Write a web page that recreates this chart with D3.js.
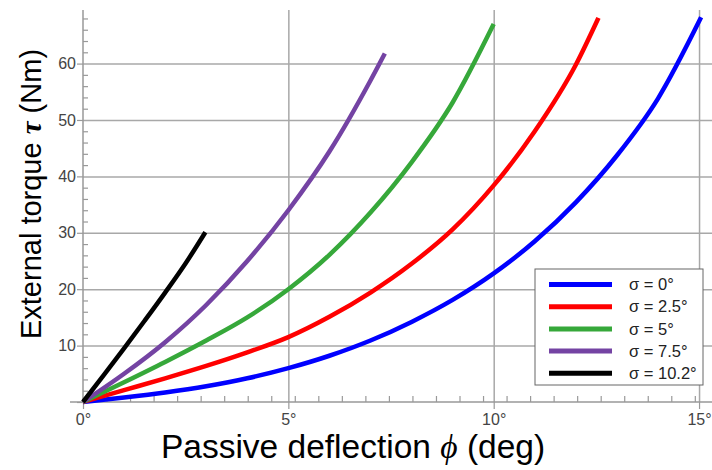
<!DOCTYPE html>
<html>
<head>
<meta charset="utf-8">
<script src="https://cdn.jsdelivr.net/npm/d3@7"></script>
<style>
  body { margin: 0; background: #fff; }
  svg { display: block; font-family: Arial, "Liberation Sans", sans-serif; }
  .grid line { stroke: #a8a8a8; stroke-width: 1.5; }
  .grid path { display: none; }
  .axis path { display: none; }
  .axis line { stroke: #999; stroke-width: 1.2; }
  .axis text { fill: #444; font-size: 16px; }
</style>
</head>
<body>
<div class="container"></div>
<script>
const w = 712;
const h = 470;
const margin = { top: 10, bottom: 68, left: 83, right: 0 };
const height = h - margin.top - margin.bottom;

// legend labels
const sigmaLabels = ["σ = 0°", "σ = 2.5°", "σ = 5°", "σ = 7.5°", "σ = 10.2°"];

// passive deflection phi (deg) and external torque tau (Nm), one pair per sigma
const phi0  = [0, 1, 2, 3, 4, 5, 6, 7, 8, 9, 10, 11, 12, 13, 14, 15.05];
const tau0  = [0, 0.8, 1.7, 2.8, 4.2, 6.0, 8.2, 10.9, 14.2, 18.1, 22.8, 28.5, 35.4, 43.7, 53.8, 68.2];
const phi25 = [0, 1, 2, 3, 4, 5, 6, 7, 8, 9, 10, 11, 12, 12.55];
const tau25 = [0, 2.1, 4.2, 6.4, 8.8, 11.5, 15.1, 19.4, 24.5, 30.6, 38.4, 48.0, 59.8, 68.1];
const phi5  = [0, 1, 2, 3, 4, 5, 6, 7, 8, 9, 10];
const tau5  = [0, 3.5, 7.1, 10.9, 15.0, 20.0, 26.1, 33.6, 42.5, 53.1, 67.0];
const phi75 = [0, 1, 2, 3, 4, 5, 6, 7, 7.35];
const tau75 = [0, 5.0, 10.6, 17.2, 25.0, 34.0, 44.4, 57.0, 61.8];
const phi102 = [0, 0.5, 1, 1.5, 2, 2.5, 2.98];
const tau102 = [0, 4.7, 9.5, 14.4, 19.4, 24.6, 30.1];

// tick values
const xMajor = [0, 5, 10, 15];
const yMajor = [0, 10, 20, 30, 40, 50, 60];

const colors = ["#0000ff", "#ff0000", "#36a83a", "#7443a3", "#000000"];

const series = [
  [phi0, tau0], [phi25, tau25], [phi5, tau5], [phi75, tau75], [phi102, tau102]
].map(([p, t], i) => ({
  label: sigmaLabels[i],
  color: colors[i],
  values: p.map((d, j) => ({ phi: d, tau: t[j] }))
}));

const svg = d3.select('.container').append('svg')
    .attr('width', w)
    .attr('height', h);

const x = d3.scaleLinear()
    .domain([0, 15.5])
    .range([margin.left, margin.left + 15.5 * 41.07]);

const y = d3.scaleLinear()
    .domain([0, 69.5])
    .range([margin.top + height, margin.top]);

const x0 = x(0);
const y0 = y(0);

// grid lines
svg.append('g')
    .classed('grid', true)
    .attr('transform', `translate(0, ${y0})`)
    .call(d3.axisBottom(x).tickValues(xMajor.slice(1)).tickSize(-(y0 - margin.top)).tickFormat(''));

svg.append('g')
    .classed('grid', true)
    .attr('transform', `translate(${x0}, 0)`)
    .call(d3.axisLeft(y).tickValues(yMajor.slice(1)).tickSize(-(w - x0)).tickFormat(''));

// minor ticks: x every 0.01 rad, y every 2 Nm
const xMinor = d3.range(1, 28).map(k => k * 0.01 * 180 / Math.PI);
const yMinor = d3.range(2, 69, 2).filter(d => d % 10 !== 0);

svg.append('g')
    .classed('axis', true)
    .attr('transform', `translate(0, ${y0})`)
    .call(d3.axisBottom(x).tickValues(xMinor).tickSize(-6).tickFormat(''));

svg.append('g')
    .classed('axis', true)
    .attr('transform', `translate(${x0}, 0)`)
    .call(d3.axisLeft(y).tickValues(yMinor).tickSize(-5).tickFormat(''));

// major ticks with labels
svg.append('g')
    .classed('axis', true)
    .attr('id', 'x-axis')
    .attr('transform', `translate(0, ${y0})`)
    .call(d3.axisBottom(x).tickValues(xMajor).tickSize(7).tickPadding(5).tickFormat(d => d + '°'));

svg.append('g')
    .classed('axis', true)
    .attr('id', 'y-axis')
    .attr('transform', `translate(${x0}, 0)`)
    .call(d3.axisLeft(y).tickValues(yMajor).tickSize(6).tickPadding(1).tickFormat(d => d === 0 ? '' : d));

// axis lines
svg.append('line')
    .attr('x1', x0 - 13).attr('x2', w)
    .attr('y1', y0).attr('y2', y0)
    .style('stroke', '#999').style('stroke-width', 1.5);

svg.append('line')
    .attr('x1', x0).attr('x2', x0)
    .attr('y1', y0).attr('y2', margin.top)
    .style('stroke', '#999').style('stroke-width', 1.5);

// curves
const line = d3.line()
    .x(d => x(d.phi))
    .y(d => y(d.tau))
    .curve(d3.curveMonotoneX);

svg.selectAll('.curve')
    .data(series)
    .enter()
    .append('path')
      .classed('curve', true)
      .attr('d', d => line(d.values))
      .style('fill', 'none')
      .style('stroke', d => d.color)
      .style('stroke-width', 4.5);

// axis titles
const yTitle = svg.append('text')
    .attr('transform', `translate(41, 194) rotate(-90)`)
    .style('text-anchor', 'middle')
    .style('font-size', '29px')
    .style('fill', '#000');
yTitle.append('tspan').text('External torque ');
yTitle.append('tspan').text('τ')
    .style('font-family', '"Liberation Serif", serif')
    .style('font-style', 'italic')
    .style('font-weight', 'bold');
yTitle.append('tspan').text(' (Nm)');

const xTitle = svg.append('text')
    .attr('x', 353)
    .attr('y', 458)
    .style('text-anchor', 'middle')
    .style('font-size', '33.5px')
    .style('fill', '#000');
xTitle.append('tspan').text('Passive deflection ');
xTitle.append('tspan').text('ϕ')
    .style('font-family', '"Liberation Serif", serif')
    .style('font-style', 'italic');
xTitle.append('tspan').text(' (deg)');

// legend
const legend = svg.append('g')
    .attr('transform', 'translate(535, 269)');

legend.append('rect')
    .attr('width', 168)
    .attr('height', 116)
    .style('fill', '#fff')
    .style('stroke', '#666')
    .style('stroke-width', 1);

const item = legend.selectAll('.legend')
    .data(series)
    .enter()
    .append('g')
      .attr('class', 'legend')
      .attr('transform', (d, i) => `translate(0, ${15.5 + i * 22.2})`);

item.append('line')
    .attr('x1', 14).attr('x2', 77)
    .style('stroke', d => d.color)
    .style('stroke-width', 5);

item.append('text')
    .attr('x', 94)
    .attr('dy', '0.35em')
    .style('font-size', '16.5px')
    .style('fill', '#222')
    .text(d => d.label);
</script>
</body>
</html>
